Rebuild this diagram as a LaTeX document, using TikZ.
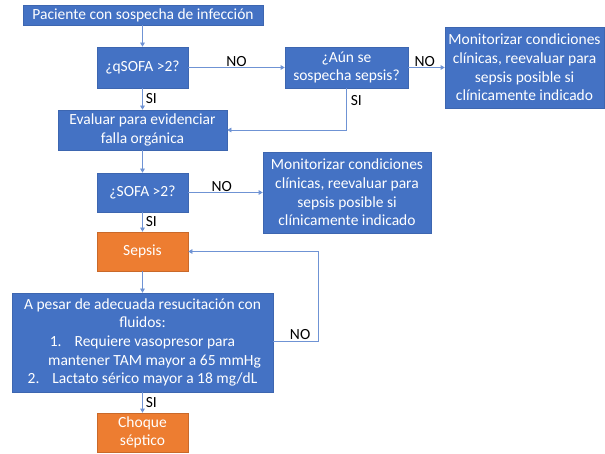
\documentclass[tikz,border=0pt]{standalone}
\usepackage{fontspec}
\setmainfont{Carlito}
\usetikzlibrary{arrows.meta}
\definecolor{bfill}{HTML}{4472C4}
\definecolor{bdraw}{HTML}{3D66B0}
\definecolor{ofill}{HTML}{ED7D31}
\definecolor{odraw}{HTML}{C9692A}
\definecolor{lineblue}{HTML}{6F93D4}
\tikzset{
  box/.style={draw=bdraw, line width=0.6pt, fill=bfill, text=white, inner sep=0pt, align=center,
    font=\fontsize{15.5}{18.6}\selectfont},
  obox/.style={box, draw=odraw, fill=ofill},
  conn/.style={draw=lineblue, line width=0.6pt, -{Triangle[width=4.5pt,length=4pt]}},
  lbl/.style={font=\fontsize{15.5}{18}\selectfont, text=black, inner sep=0pt}
}
\begin{document}
\begin{tikzpicture}[x=1pt,y=-1pt]
\useasboundingbox (0,0) rectangle (605,454);
\node[box, minimum width=240pt, minimum height=20pt] (p) at (143,15) {Paciente con sospecha de infección};
\node[box, minimum width=91pt, minimum height=41pt] (q) at (142.5,67.5) {¿qSOFA >2?};
\node[box, minimum width=123pt, minimum height=41pt] (a) at (346.5,67.5) {¿Aún se\\sospecha sepsis?};
\node[box, minimum width=159pt, minimum height=81pt] (m1) at (524.5,67.5) {Monitorizar condiciones\\clínicas, reevaluar para\\sepsis posible si\\clínicamente indicado};
\node[box, minimum width=169pt, minimum height=40pt] (e) at (142.5,130) {Evaluar para evidenciar\\falla orgánica};
\node[box, minimum width=91pt, minimum height=39pt] (s) at (142.5,192.5) {¿SOFA >2?};
\node[box, minimum width=168pt, minimum height=81pt] (m2) at (347,192.5) {Monitorizar condiciones\\clínicas, reevaluar para\\sepsis posible si\\clínicamente indicado};
\node[obox, minimum width=91pt, minimum height=39pt] (sep) at (142.5,251.5) {Sepsis};
\node[box, minimum width=261pt, minimum height=99pt] (big) at (142.5,342.5) {A pesar de adecuada resucitación con\\fluidos:\\1.\hspace{13pt}Requiere vasopresor para\\\hspace*{24pt}mantener TAM mayor a 65 mmHg\\2.\hspace{13pt}Lactato sérico mayor a 18 mg/dL};
\node[obox, minimum width=91pt, minimum height=39pt] (ch) at (142.5,432.5) {Choque\\séptico};

\coordinate (c1) at (a.south |- e.east);
\coordinate (c2) at (318,341);
\coordinate (c3) at (318,251.5);

\draw[conn] (p.south -| q.north) -- (q.north);
\draw[conn] (q) -- node[lbl, above=1pt, pos=0.5] (n1) {NO} (a);
\draw[conn] (a) -- node[lbl, above=1pt, pos=0.45] (n2) {NO} (m1);
\draw[conn] (q) -- node[lbl, right=3pt, pos=0.5] (s1) {SI} (e);
\draw[conn] (a.south) -- node[lbl, right=4pt, pos=0.3] (s2) {SI} (c1) -- (e.east);
\draw[conn] (e) -- (s);
\draw[conn] (s) -- node[lbl, above=1pt, pos=0.45] (n3) {NO} (m2);
\draw[conn] (s) -- node[lbl, right=3pt, pos=0.5] (s3) {SI} (sep);
\draw[conn] (sep) -- (big);
\draw[conn] (big.east |- c2) -- node[lbl, above=1pt, pos=0.6] (n4) {NO} (c2) -- (c3) -- (sep.east);
\draw[conn] (big) -- node[lbl, right=3pt, pos=0.5] (s4) {SI} (ch);
\end{tikzpicture}
\end{document}
